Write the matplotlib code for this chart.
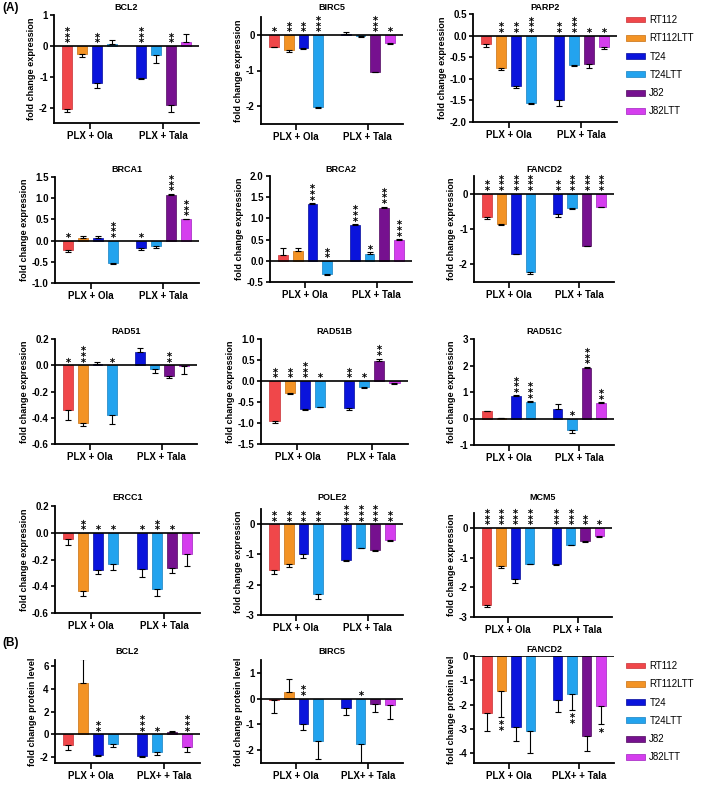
import matplotlib
matplotlib.use('Agg')
import matplotlib.pyplot as plt
from matplotlib.transforms import offset_copy
from matplotlib.patches import Patch

plt.rcParams['font.family'] = ['Liberation Sans', 'DejaVu Sans']

W, H = 709, 810
fig = plt.figure(figsize=(W / 100, H / 100), dpi=100)

# ---------------- data ----------------
series = ['RT112', 'RT112LTT', 'T24', 'T24LTT', 'J82', 'J82LTT']
colors = ['#F0474A', '#F39325', '#0A14DC', '#23A3EE', '#76118F', '#D53EEE']
edge_colors = ['#C83035', '#C87010', '#050C9A', '#1680C0', '#500A60', '#A020C0']
groups_a = ['PLX + Ola', 'PLX + Tala']
groups_b = ['PLX + Ola', 'PLX+ + Tala']
members = [0, 1, 2, 3, 2, 3, 4, 5]   # series index of each bar (4 per group)

bcl2_vals = [-2.05, -0.28, -1.20, 0.05, -1.03, -0.30, -1.93, 0.13]
bcl2_errs = [0.10, 0.07, 0.15, 0.15, 0.05, 0.27, 0.22, 0.25]
bcl2_stars = [3, 0, 2, 0, 3, 0, 2, 0]

birc5_vals = [-0.33, -0.43, -0.37, -2.03, 0.03, -0.02, -1.03, -0.22]
birc5_errs = [0.02, 0.04, 0.04, 0.02, 0.04, 0.03, 0.01, 0.05]
birc5_stars = [1, 2, 2, 3, 0, 0, 3, 1]

parp2_vals = [-0.20, -0.75, -1.17, -1.57, -1.50, -0.67, -0.65, -0.27]
parp2_errs = [0.07, 0.04, 0.04, 0.01, 0.14, 0.03, 0.10, 0.03]
parp2_stars = [0, 2, 2, 3, 2, 3, 1, 1]

brca1_vals = [-0.23, 0.07, 0.05, -0.52, -0.18, -0.13, 1.07, 0.50]
brca1_errs = [0.05, 0.03, 0.05, 0.03, 0.03, 0.04, 0.03, 0.01]
brca1_stars = [1, 0, 0, 3, 1, 0, 3, 3]

brca2_vals = [0.13, 0.22, 1.33, -0.30, 0.84, 0.17, 1.25, 0.49]
brca2_errs = [0.17, 0.08, 0.03, 0.04, 0.02, 0.03, 0.03, 0.02]
brca2_stars = [0, 0, 3, 2, 3, 1, 3, 3]

fancd2_vals = [-0.65, -0.85, -1.70, -2.22, -0.57, -0.40, -1.47, -0.37]
fancd2_errs = [0.07, 0.03, 0.02, 0.04, 0.08, 0.02, 0.02, 0.02]
fancd2_stars = [2, 3, 3, 3, 2, 3, 3, 3]

rad51_vals = [-0.34, -0.44, 0.01, -0.38, 0.10, -0.03, -0.08, -0.005]
rad51_errs = [0.08, 0.02, 0.015, 0.07, 0.03, 0.03, 0.02, 0.06]
rad51_stars = [1, 3, 0, 1, 0, 0, 2, 0]

rad51b_vals = [-0.95, -0.28, -0.66, -0.62, -0.65, -0.15, 0.48, -0.04]
rad51b_errs = [0.05, 0.02, 0.03, 0.01, 0.05, 0.02, 0.05, 0.04]
rad51b_stars = [2, 2, 3, 1, 2, 1, 2, 0]

rad51c_vals = [0.27, 0.02, 0.84, 0.63, 0.35, -0.42, 1.90, 0.58]
rad51c_errs = [0.02, 0.01, 0.03, 0.02, 0.18, 0.12, 0.05, 0.03]
rad51c_stars = [0, 0, 3, 3, 0, 1, 3, 2]

ercc1_vals = [-0.045, -0.435, -0.28, -0.23, -0.27, -0.42, -0.26, -0.16]
ercc1_errs = [0.05, 0.035, 0.03, 0.05, 0.06, 0.05, 0.04, 0.09]
ercc1_stars = [0, 2, 1, 1, 1, 2, 1, 0]

pole2_vals = [-1.50, -1.30, -0.98, -2.30, -1.20, -0.78, -0.87, -0.53]
pole2_errs = [0.13, 0.13, 0.13, 0.17, 0.02, 0.02, 0.03, 0.02]
pole2_stars = [2, 2, 2, 2, 3, 3, 3, 2]

mcm5_vals = [-2.60, -1.30, -1.73, -1.20, -1.20, -0.57, -0.43, -0.28]
mcm5_errs = [0.06, 0.05, 0.13, 0.02, 0.05, 0.02, 0.05, 0.02]
mcm5_stars = [3, 3, 3, 3, 3, 3, 2, 1]

# protein level (B)
bcl2p_vals = [-0.90, 4.50, -1.80, -0.80, -1.85, -1.50, 0.20, -1.10]
bcl2p_errs = [0.45, 2.10, 0.10, 0.30, 0.10, 0.30, 0.10, 0.40]
bcl2p_stars = [0, 0, 2, 0, 3, 1, 0, 3]

birc5p_vals = [-0.05, 0.25, -1.00, -1.65, -0.35, -1.75, -0.20, -0.25]
birc5p_errs = [0.50, 0.50, 0.20, 0.70, 0.30, 0.80, 0.30, 0.55]
birc5p_stars = [0, 0, 2, 0, 0, 1, 0, 0]

fancd2p_vals = [-2.35, -1.45, -2.90, -3.10, -1.80, -1.55, -3.30, -2.05]
fancd2p_errs = [0.75, 1.05, 0.60, 0.90, 0.50, 0.65, 0.60, 0.75]
fancd2p_stars = [0, -2, 0, 0, 0, -2, 0, -1]   # negative = drawn below the error bar

# ---------------- drawing ----------------
SPACING = 0.205
BAR_W = 0.137


def draw_stars(ax, x, base, n, sign):
    for k in range(n):
        tr = offset_copy(ax.transData, fig=fig, x=0, y=sign * (4.0 + 4.1 * k), units='points')
        ax.plot([x], [base], marker='$\\ast$', ms=3.6, mew=0.15, color='black',
                transform=tr, clip_on=False, zorder=4)


def panel(rect, title_y, title, vals, errs, stars, ylim, yticks, yticklabels, ylabel, glabels):
    l, t, r, b = rect
    ax = fig.add_axes([l / W, 1 - b / H, (r - l) / W, (b - t) / H])
    xs = [g + (i - 1.5) * SPACING for g in range(2) for i in range(4)]
    for x, v, e, s, m in zip(xs, vals, errs, stars, members):
        ax.bar(x, v, width=BAR_W, color=colors[m], edgecolor=edge_colors[m],
               linewidth=0.5, zorder=2)
        yerr = [[0], [e]] if v >= 0 else [[e], [0]]
        ax.errorbar([x], [v], yerr=yerr, fmt='none', ecolor='black',
                    elinewidth=0.8, capsize=2.0, capthick=0.8, zorder=3)
        if s > 0:
            draw_stars(ax, x, max(0, v + e), s, 1)
        elif s < 0:
            draw_stars(ax, x, v - e, -s, -1)
    ax.axhline(0, color='black', lw=1.2, zorder=3)
    ax.set_xlim(-0.49, 1.49)
    ax.set_ylim(*ylim)
    ax.set_yticks(yticks)
    ax.set_yticklabels(yticklabels)
    ax.set_xticks([0, 1])
    ax.set_xticklabels(glabels)
    for sp in ['top', 'right']:
        ax.spines[sp].set_visible(False)
    for sp in ['left', 'bottom']:
        ax.spines[sp].set_linewidth(1.3)
    ax.tick_params(axis='y', direction='out', length=3, width=1.2, labelsize=7, pad=1.5)
    ax.tick_params(axis='x', direction='out', length=4, width=1.2, labelsize=7, pad=2)
    for lab in ax.get_xticklabels() + ax.get_yticklabels():
        lab.set_fontweight('bold')
    fig.text((l + r) / 2 / W, 1 - title_y / H, title, fontsize=6.5, fontweight='bold',
             ha='center', va='center')
    ax.set_ylabel(ylabel, fontsize=6.6, fontweight='bold', labelpad=2)
    return ax


def fmt(vals, dec):
    return [f'{v:.{dec}f}' for v in vals]


YL = 'fold change expression'
YLB = 'fold change protein level'

panel((54, 15, 199, 123), 8, 'BCL2', bcl2_vals, bcl2_errs, bcl2_stars, (-2.5, 1),
      [-2, -1, 0, 1], fmt([-2, -1, 0, 1], 0), YL, groups_a)
panel((261, 17, 403, 124), 8, 'BIRC5', birc5_vals, birc5_errs, birc5_stars, (-2.5, 0.5),
      [-2, -1, 0], fmt([-2, -1, 0], 0), YL, groups_a)
panel((473, 14, 617, 122), 7, 'PARP2', parp2_vals, parp2_errs, parp2_stars, (-2.0, 0.5),
      [-2.0, -1.5, -1.0, -0.5, 0.0, 0.5], fmt([-2.0, -1.5, -1.0, -0.5, 0.0, 0.5], 1), YL, groups_a)

panel((55, 177, 199, 283), 169, 'BRCA1', brca1_vals, brca1_errs, brca1_stars, (-1.0, 1.5),
      [-1.0, -0.5, 0.0, 0.5, 1.0, 1.5], fmt([-1.0, -0.5, 0.0, 0.5, 1.0, 1.5], 1), YL, groups_a)
panel((270, 176, 412, 282), 169, 'BRCA2', brca2_vals, brca2_errs, brca2_stars, (-0.5, 2.0),
      [-0.5, 0.0, 0.5, 1.0, 1.5, 2.0], fmt([-0.5, 0.0, 0.5, 1.0, 1.5, 2.0], 1), YL, groups_a)
panel((474, 176, 614, 282), 169, 'FANCD2', fancd2_vals, fancd2_errs, fancd2_stars, (-2.5, 0.5),
      [-2, -1, 0], fmt([-2, -1, 0], 0), YL, groups_a)

panel((55, 339, 197, 444), 332, 'RAD51', rad51_vals, rad51_errs, rad51_stars, (-0.6, 0.2),
      [-0.6, -0.4, -0.2, 0.0, 0.2], fmt([-0.6, -0.4, -0.2, 0.0, 0.2], 1), YL, groups_a)
panel((261, 339, 408, 444), 332, 'RAD51B', rad51b_vals, rad51b_errs, rad51b_stars, (-1.5, 1.0),
      [-1.5, -1.0, -0.5, 0.0, 0.5, 1.0], fmt([-1.5, -1.0, -0.5, 0.0, 0.5, 1.0], 1), YL, groups_a)
panel((474, 339, 614, 445), 332, 'RAD51C', rad51c_vals, rad51c_errs, rad51c_stars, (-1, 3),
      [-1, 0, 1, 2, 3], fmt([-1, 0, 1, 2, 3], 0), YL, groups_a)

panel((55, 506, 200, 613), 498, 'ERCC1', ercc1_vals, ercc1_errs, ercc1_stars, (-0.6, 0.2),
      [-0.6, -0.4, -0.2, 0.0, 0.2], fmt([-0.6, -0.4, -0.2, 0.0, 0.2], 1), YL, groups_a)
panel((261, 509, 403, 615), 497, 'POLE2', pole2_vals, pole2_errs, pole2_stars, (-3, 0.5),
      [-3, -2, -1, 0], fmt([-3, -2, -1, 0], 0), YL, groups_a)
panel((474, 513, 612, 617), 497, 'MCM5', mcm5_vals, mcm5_errs, mcm5_stars, (-3, 0.5),
      [-3, -2, -1, 0], fmt([-3, -2, -1, 0], 0), YL, groups_a)

panel((55, 660, 200, 763), 652, 'BCL2', bcl2p_vals, bcl2p_errs, bcl2p_stars, (-2.5, 6.5),
      [-2, 0, 2, 4, 6], fmt([-2, 0, 2, 4, 6], 0), YLB, groups_b)
panel((261, 660, 403, 763), 652, 'BIRC5', birc5p_vals, birc5p_errs, birc5p_stars, (-2.5, 1.5),
      [-2, -1, 0, 1], fmt([-2, -1, 0, 1], 0), YLB, groups_b)
panel((474, 656, 614, 763), 649, 'FANCD2', fancd2p_vals, fancd2p_errs, fancd2p_stars, (-4.4, 0),
      [-4, -3, -2, -1, 0], fmt([-4, -3, -2, -1, 0], 0), YLB, groups_b)

# legends
handles = [Patch(facecolor=c, edgecolor=ec, linewidth=0.5) for c, ec in zip(colors, edge_colors)]
for ytop in (15, 661):
    fig.legend(handles, series, loc='upper left', bbox_to_anchor=(626 / W, 1 - ytop / H),
               frameon=False, fontsize=7, handlelength=2.0, handleheight=0.55,
               handletextpad=0.4, labelspacing=0.85, borderaxespad=0, borderpad=0)

fig.text(2 / W, 1 - 8 / H, '(A)', fontsize=8.5, fontweight='bold', va='center', ha='left')
fig.text(2 / W, 1 - 643 / H, '(B)', fontsize=8.5, fontweight='bold', va='center', ha='left')

fig.savefig('out.png', dpi=100)
